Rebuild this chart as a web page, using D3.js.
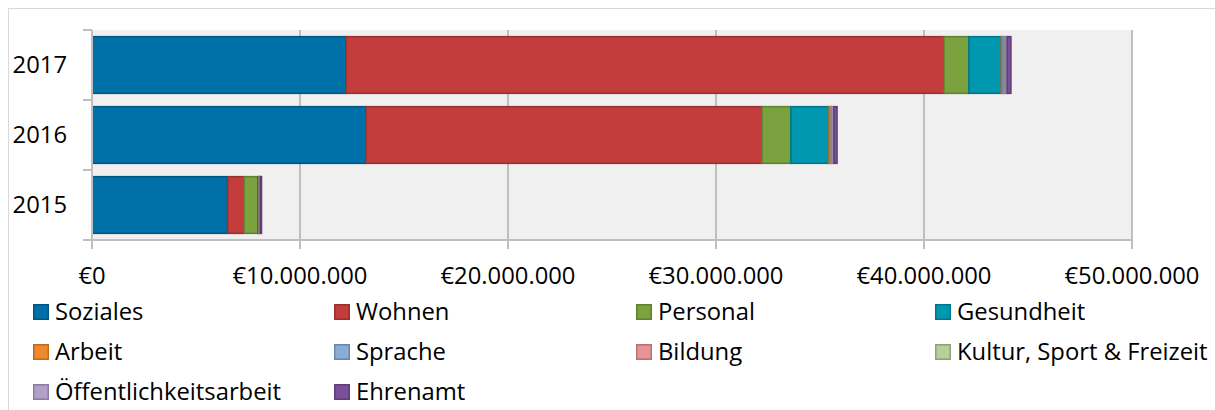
<!DOCTYPE html>
<html>
<head>
<meta charset="utf-8">
<script src="https://cdn.jsdelivr.net/npm/d3@7"></script>
<style>
  html, body { margin: 0; padding: 0; background: #fff; }
  svg { display: block; font-family: "Open Sans", sans-serif; }
</style>
</head>
<body>
<div id="graph"></div>
<script>
// Data ////////////////////////////////////////////////////////////////
const years = ["2017", "2016", "2015"];
const categories = [
  "Soziales", "Wohnen", "Personal", "Gesundheit", "Arbeit",
  "Sprache", "Bildung", "Kultur, Sport & Freizeit", "Öffentlichkeitsarbeit", "Ehrenamt"
];
// values in € per year, same order as categories
const values2017 = [12210000, 28750000, 1200000, 1550000, 80000, 50000, 20000, 40000, 100000, 180000];
const values2016 = [13170000, 19040000, 1390000, 1830000, 50000, 40000, 20000, 30000, 100000, 150000];
const values2015 = [6520000, 790000, 670000, 50000, 10000, 10000, 10000, 10000, 20000, 60000];
const xTicks = [0, 10000000, 20000000, 30000000, 40000000, 50000000];

const colors = [
  "#0070a8", "#c43d3d", "#7aa33f", "#0097b0", "#f0892a",
  "#8aadd5", "#e69495", "#b3d199", "#b3a0c9", "#7a4f99"
];

// Constants ////////////////////////////////////////////////////////////////
const svgWidth = 1215;
const svgHeight = 410;
const plot = { left: 92, right: 1132, top: 30, bottom: 240 };
const fontSize = 23.8;

const svg = d3
  .select("#graph")
  .append("svg")
  .attr("width", svgWidth)
  .attr("height", svgHeight);

// chart frame
svg.append("rect")
  .attr("x", 8.5)
  .attr("y", 8.5)
  .attr("width", svgWidth)
  .attr("height", svgHeight)
  .style("fill", "none")
  .style("stroke", "#d9d9d9")
  .style("stroke-width", 1);

// Scales ////////////////////////////////////////////////////////////////
const x = d3.scaleLinear().domain([0, 50000000]).range([plot.left, plot.right]);
const y = d3.scaleBand().domain(years).range([plot.top, plot.bottom]).paddingInner(0.19).paddingOuter(0.095);

// plot background
svg.append("rect")
  .attr("x", plot.left)
  .attr("y", plot.top)
  .attr("width", plot.right - plot.left)
  .attr("height", plot.bottom - plot.top)
  .style("fill", "#f0f0f0");

// grid lines
svg.append("g")
  .selectAll("line")
  .data(xTicks)
  .join("line")
  .attr("x1", d => x(d))
  .attr("x2", d => x(d))
  .attr("y1", plot.top)
  .attr("y2", plot.bottom + 9)
  .style("stroke", "#bfbfbf")
  .style("stroke-width", 2);

// Stacked bars ////////////////////////////////////////////////////////////
const rows = years.map(yr => {
  const vals = { "2017": values2017, "2016": values2016, "2015": values2015 }[yr];
  const row = { year: yr };
  categories.forEach((c, i) => (row[c] = vals[i]));
  return row;
});

const series = d3.stack().keys(categories)(rows);

const layer = svg.append("g")
  .selectAll("g")
  .data(series)
  .join("g")
  .style("fill", (d, i) => colors[i])
  .style("stroke", (d, i) => d3.color(colors[i]).darker(0.7))
  .style("stroke-width", 1.5);

layer.selectAll("rect")
  .data(d => d)
  .join("rect")
  .attr("x", d => x(d[0]))
  .attr("y", d => y(d.data.year))
  .attr("width", d => Math.max(0, x(d[1]) - x(d[0])))
  .attr("height", y.bandwidth());

// Axes ////////////////////////////////////////////////////////////////
// x axis line
svg.append("line")
  .attr("x1", plot.left - 9)
  .attr("x2", plot.right)
  .attr("y1", plot.bottom)
  .attr("y2", plot.bottom)
  .style("stroke", "#bfbfbf")
  .style("stroke-width", 2);

// y axis line + ticks at band boundaries
svg.append("line")
  .attr("x1", plot.left)
  .attr("x2", plot.left)
  .attr("y1", plot.top)
  .attr("y2", plot.bottom + 9)
  .style("stroke", "#bfbfbf")
  .style("stroke-width", 2);

const bandEdges = years.map(yr => y(yr) - y.step() * y.paddingInner() / 2).concat([plot.bottom]);
bandEdges[0] = plot.top;
svg.append("g")
  .selectAll("line")
  .data(bandEdges)
  .join("line")
  .attr("x1", plot.left - 9)
  .attr("x2", plot.left)
  .attr("y1", d => d)
  .attr("y2", d => d)
  .style("stroke", "#bfbfbf")
  .style("stroke-width", 2);

const fmt = d => "€" + d3.format(",")(d).replace(/,/g, ".");

svg.append("g")
  .selectAll("text")
  .data(xTicks)
  .join("text")
  .attr("x", d => x(d))
  .attr("y", 276)
  .attr("dy", "0.35em")
  .attr("text-anchor", "middle")
  .style("font-size", fontSize + "px")
  .style("fill", "#000")
  .text(fmt);

svg.append("g")
  .selectAll("text")
  .data(years)
  .join("text")
  .attr("x", 67)
  .attr("y", d => y(d) + y.bandwidth() / 2)
  .attr("dy", "0.35em")
  .attr("text-anchor", "end")
  .style("font-size", fontSize + "px")
  .style("fill", "#000")
  .text(d => d);

// Legend ////////////////////////////////////////////////////////////////
const legendCols = [33, 334, 636, 935];
const legendRows = [312, 352, 392];
const swatch = 16;

const legendItem = svg.append("g")
  .selectAll("g")
  .data(categories)
  .join("g")
  .attr("transform", (d, i) => `translate(${legendCols[i % 4]}, ${legendRows[Math.floor(i / 4)]})`);

legendItem.append("rect")
  .attr("x", 0.75)
  .attr("y", -swatch / 2 + 0.75)
  .attr("width", swatch - 1.5)
  .attr("height", swatch - 1.5)
  .style("fill", (d, i) => colors[i])
  .style("stroke", (d, i) => d3.color(colors[i]).darker(0.7))
  .style("stroke-width", 1.5);

legendItem.append("text")
  .attr("x", swatch + 6)
  .attr("dy", "0.35em")
  .style("font-size", fontSize + "px")
  .style("fill", "#000")
  .text(d => d);
</script>
</body>
</html>
